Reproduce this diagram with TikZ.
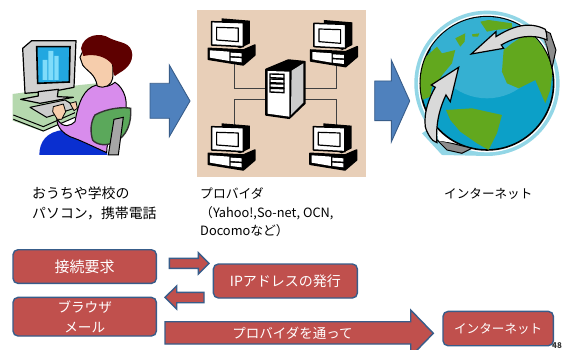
\documentclass[tikz,border=0pt]{standalone}
\usepackage{fontspec}
\setmainfont{Noto Sans CJK JP}
\definecolor{arrowblue}{HTML}{4F81BD}
\definecolor{edgeblue}{HTML}{385D8A}
\definecolor{boxred}{HTML}{C0504D}
\definecolor{tan}{HTML}{E8CFB8}
\definecolor{land}{HTML}{62A81E}
\definecolor{sea}{HTML}{0CA0C8}
\definecolor{seatop}{HTML}{35B0D2}
\definecolor{halo}{HTML}{92D6E6}
\definecolor{desk}{HTML}{B5D8AE}
\definecolor{sweater}{HTML}{D88CEC}
\definecolor{skin}{HTML}{F6CDAC}
\definecolor{hair}{HTML}{5E0000}
\definecolor{screen}{HTML}{22A7E0}
\definecolor{bar}{HTML}{7FDCFA}
\definecolor{chair}{HTML}{5BA85B}
\definecolor{pants}{HTML}{0A2FD0}
\tikzset{
 bigarrow/.style={fill=arrowblue,draw=edgeblue,line width=.9pt,line join=miter},
 redarrow/.style={fill=boxred,draw=edgeblue,line width=1.4pt,line join=miter},
 redbox/.style={fill=boxred,draw=edgeblue,line width=1.4pt,rounded corners=5pt,text=white,
   align=center,inner sep=0pt,anchor=north west},
 caption/.style={anchor=west,align=left,inner sep=0pt,text=black},
 zoomed/.style={x=.3333pt,y=-.3333pt},
 ink/.style={draw=black,line width=1.2pt,line join=round},
 wire/.style={draw=black!75,line width=.8pt},
 pcpart/.style={fill=white,draw=black,line width=1.5pt,line join=round},
}
\newcommand{\pcicon}[2]{%
\begin{scope}[shift={(#1,#2)}]
 \fill[black] (95,55)--(180,62)--(180,130)--(150,145)--(95,120)--cycle;
 \draw[pcpart] (65,65)--(160,68)--(160,140)--(65,135)--cycle;
 \draw[pcpart,line width=1.2pt] (80,82)--(145,84)--(145,125)--(80,120)--cycle;
 \draw[pcpart,fill=black] (55,145)--(160,150)--(195,135)--(195,165)--(160,195)--(55,178)--cycle;
 \fill[white] (60,151)--(118,155)--(118,183)--(60,173)--cycle;
 \fill[white] (122,158)--(155,160)--(155,170)--(122,168)--cycle;
 \fill[white] (122,173)--(155,175)--(155,187)--(122,183)--cycle;
\end{scope}}
\begin{document}
\begin{tikzpicture}[x=1pt,y=-1pt]
\useasboundingbox (0,0) rectangle (562,350);
\fill[white] (0,0) rectangle (562,350);

% --- person at computer
\begin{scope}[zoomed]
 \fill[desk] (38,282)--(240,255)--(290,250)--(235,345)--(130,395)--(38,362)--cycle;
 \draw[line width=1pt] (40,345)--(130,380)--(225,338) (40,358)--(130,393)--(225,352);
 \draw[ink,fill=black!18] (68,145)--(95,122)--(228,122)--(222,262)--(170,272)--(75,280)--cycle;
 \draw[ink,fill=black!18] (115,275)--(175,268)--(172,290)--(220,292)--(120,310)--(62,298)--(115,288)--cycle;
 \draw[ink,line width=1pt,fill=black!20] (90,322)--(195,300)--(232,322)--(140,352)--cycle;
 \draw[draw=black,line width=1.6pt,fill=screen] (110,140)--(210,140)--(208,246)--(113,250)--cycle;
 \fill[bar] (128,180) rectangle (142,240) (145,153) rectangle (160,240) (163,168) rectangle (176,240);
 % trousers
 \fill[pants] (118,465) .. controls (118,425) and (140,395) .. (190,390)--(320,440)--(322,465)--cycle;
 % sweater
 \draw[draw=black,line width=1pt,fill=sweater] (170,355) .. controls (190,390) and (215,375) .. (225,365)
   .. controls (235,310) and (250,265) .. (290,255) .. controls (320,265) and (335,255) .. (345,247)
   .. controls (375,265) and (385,310) .. (375,335) .. controls (340,375) and (320,420) .. (320,458)
   .. controls (280,440) and (240,420) .. (210,410) .. controls (190,400) and (172,385) .. (170,355)--cycle;
 % neck and face
 \draw[draw=black,line width=1pt,fill=skin] (250,150)--(240,172)--(248,195) .. controls (262,215) and (285,220) .. (292,258)
   .. controls (315,268) and (335,255) .. (338,235) .. controls (340,210) and (340,190) .. (330,170)--cycle;
 % hair
 \fill[hair] (243,145) .. controls (250,105) and (300,95) .. (330,115)
   .. controls (360,130) and (395,125) .. (397,165) .. controls (395,205) and (360,215) .. (345,228)
   .. controls (338,225) and (340,210) .. (338,195) .. controls (320,170) and (285,160) .. (250,168)--cycle;
 % chair
 \draw[draw=black!80,line width=1.4pt,fill=chair] (285,345) .. controls (320,325) and (370,320) .. (392,325)
   .. controls (395,370) and (380,410) .. (345,425) .. controls (320,440) and (290,435) .. (278,420)
   .. controls (270,395) and (272,365) .. (285,345)--cycle;
 \draw[draw=black,line width=1pt,fill=black!35] (342,358)--(370,352)--(355,465)--(325,465)--cycle;
 % hands
 \draw[draw=black,line width=.8pt,fill=skin] (160,320)--(190,312)--(197,335)--(185,358)--(172,358)--(158,335)--cycle;
 \draw[draw=black,line width=.8pt,fill=skin] (210,310)--(228,305)--(232,325)--(222,332)--cycle;
\end{scope}

% --- network panel
\begin{scope}[zoomed,shift={(570,0)}]
 \fill[tan] (22,30) rectangle (527,530);
 \coordinate (srvTL) at (228,265); \coordinate (srvBL) at (228,298);
 \coordinate (srvTR) at (345,265); \coordinate (srvBR) at (345,298);
 \draw[wire] (132,190)|-(srvTL) (132,375)|-(srvBL) (440,190)|-(srvTR) (440,375)|-(srvBR);
 \pcicon{0}{0}\pcicon{307}{5}\pcicon{0}{315}\pcicon{305}{315}
 \draw[pcpart,fill=black] (228,208)--(295,180)--(345,185)--(345,310)--(298,355)--(228,345)--cycle;
 \fill[black!20] (305,212)--(340,190)--(340,308)--(303,345)--cycle;
 \fill[white] (233,213)--(298,215)--(298,350)--(233,341)--cycle;
 \foreach \y in {222,237,251,265} \draw[line width=1.4pt,fill=white] (240,\y)--(282,\y+1)--(282,\y+13)--(240,\y+11)--cycle;
\end{scope}

% --- globe
\begin{scope}[zoomed,shift={(1116,0)}]
 \fill[halo] (345,250) circle [radius=218];
 \fill[halo] (345,468)--(210,465)--(150,400)--(300,300)--cycle;
 \fill[white] (345,250) circle [radius=207];
 \draw[line width=1.6pt,fill=sea] (345,250) circle [radius=200];
 \begin{scope}
  \clip (345,250) circle [radius=199];
  \fill[seatop] (345,125) circle [radius=170];
  \fill[land] (130,200) -- (195,140)--(210,160)--(250,150)--(240,190)--(215,220)--(200,240)--(180,260)--(175,290)--(150,300)--cycle;
  \fill[land] (420,80)--(500,100)--(545,190)--(535,270)--(520,310)--(490,240)--(440,265)--(405,250)--(390,215)--(395,150)--(420,130)--(450,110)--cycle;
  \fill[land] (325,65)--(350,60)--(420,70)--(420,85)--(370,90)--(345,95)--cycle;
  \fill[land] (222,330)--(300,325)--(390,345)--(375,400)--(350,450)--(315,430)--(265,395)--(235,360)--cycle;
  \fill[land] (250,115)--(280,100)--(278,125)--(265,140)--cycle;
  \fill[land] (300,103)--(322,100)--(318,110)--(302,110)--cycle;
 \end{scope}
 % back parts of the loops
 \draw[draw=black,line width=1pt,fill=black!45] (505,85)--(535,100)--(552,150)--(540,205)--(525,140)--cycle;
 \draw[draw=black,line width=1pt,fill=black!45] (195,420)--(240,430)--(300,445)--(270,460)--(225,450)--cycle;
 \fill[white] (505,90)--(525,140)--(510,105)--cycle;
 \fill[white] (195,395)--(240,428)--(200,422)--cycle;
 % front arrows
 \draw[draw=black,line width=1.2pt,fill=black!15,line join=miter] (298,162)--(372,95)--(372,110) .. controls (420,80) and (470,62) .. (520,88)
   .. controls (525,100) and (525,115) .. (525,120) .. controls (480,100) and (430,110) .. (388,135)--(395,145)--cycle;
 \draw[draw=black,line width=1.2pt,fill=black!15,line join=miter] (260,202)--(235,305)--(222,285) .. controls (205,320) and (190,370) .. (195,428)
   .. controls (180,425) and (165,400) .. (160,380) .. controls (155,340) and (170,295) .. (190,262)--(178,255)--cycle;
\end{scope}

% --- large arrows
\draw[bigarrow] (150,83.3)--(169.3,83.3)--(169.3,65)--(190,101)--(169.3,136.7)--(169.3,118.3)--(150,118.3)--cycle;
\draw[bigarrow] (374.7,81)--(391.3,81)--(391.3,60)--(409.7,101)--(391.3,142)--(391.3,120.7)--(374.7,120.7)--cycle;

% --- captions
\node[caption,font=\fontsize{13.9}{20}\selectfont] (capHome) at (32,203) {おうちや学校の\\パソコン，携帯電話};
\node[caption,font=\fontsize{12.8}{18.6}\selectfont] (capProv) at (200,212.5) {プロバイダ\\（Yahoo!,So-net, OCN,\\Docomoなど）};
\node[caption,font=\fontsize{12.6}{15}\selectfont] (capNet) at (444,194) {インターネット};

% --- lower flow
\node[redbox,font=\fontsize{15}{18}\selectfont,minimum width=143.4pt,minimum height=33.7pt] (req) at (12.3,249) {接続要求};
\node[redbox,font=\fontsize{13.6}{19.5}\selectfont,minimum width=143.4pt,minimum height=38.6pt] (brow) at (12.3,296.7) {ブラウザ\\メール};
\node[redbox,font=\fontsize{14}{17}\selectfont,minimum width=144pt,minimum height=34pt] (ip) at (212.7,263.3) {IPアドレスの発行};
\node[redbox,font=\fontsize{12.6}{15}\selectfont,minimum width=110.4pt,minimum height=34.3pt] (net) at (442.3,310.7) {インターネット};

\draw[redarrow] (169.3,258.3)--(198.3,258.3)--(198.3,252.7)--(209,263.3)--(198.3,274)--(198.3,268.3)--(169.3,268.3)--cycle;
\draw[redarrow] (204,292.3)--(176.7,292.3)--(176.7,286)--(165,297.3)--(176.7,309)--(176.7,302.7)--(204,302.7)--cycle;
\draw[redarrow] (165,321.7)--(410.7,321.7)--(410.7,310)--(433.3,333.3)--(410.7,356.6)--(410.7,344)--(165,344)--cycle;
\node[text=white,font=\fontsize{13.5}{16}\selectfont,inner sep=0pt] (through) at (292.5,333) {プロバイダを通って};
\node[font=\fontsize{8}{8}\bfseries\selectfont,text=black!80,inner sep=0pt,anchor=north west] (page) at (552,342) {48};
\end{tikzpicture}
\end{document}
